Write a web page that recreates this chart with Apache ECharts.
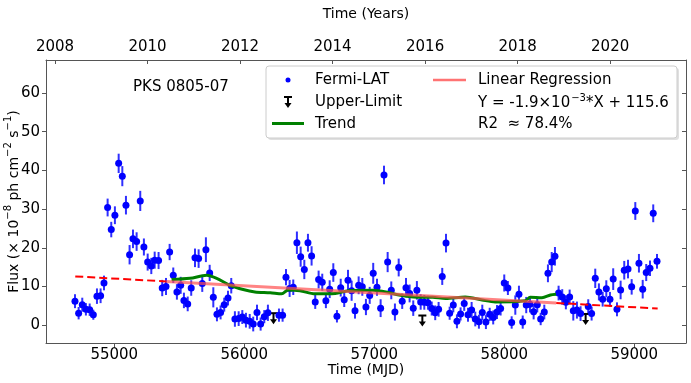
<!DOCTYPE html>
<html lang="en" style="height: 100%">
<head>
    <meta charset="utf-8">
    <title>PKS 0805-07 light curve</title>
    <script src="https://cdn.jsdelivr.net/npm/echarts@6.0.0/dist/echarts.min.js"></script>
    <style>
        html, body { margin: 0; padding: 0; background: #fff; }
        #chart { width: 691px; height: 383px; }
    </style>
</head>
<body>
<div id="chart"></div>

<script type="text/javascript">
    // Fermi-LAT detections: time (MJD), flux and 1-sigma error (x 10^-8 ph cm^-2 s^-1)
    var mjd = [
        54698, 54726, 54754, 54782, 54811, 54839, 54867, 54895, 54921, 54949, 54977, 55005, 55034, 55062, 55090, 55118, 55144, 55172, 55200, 55228, 55257, 55285, 55311,
        55341, 55369, 55398, 55426, 55454, 55482, 55511, 55536, 55565, 55592, 55621, 55649, 55677, 55705, 55734, 55762, 55790, 55818, 55846, 55875, 55900, 55928, 55957, 55985, 56013, 56042, 56069, 56098, 56126, 56154, 56182,
        56267, 56295, 56321, 56349, 56377, 56405, 56434, 56462, 56490, 56518, 56546, 56572, 56600, 56628, 56657, 56685, 56713, 56742, 56769, 56798, 56826, 56852, 56880, 56908, 56936, 56965, 56992, 57021, 57049, 57075, 57103, 57131, 57159, 57188, 57215, 57244, 57272, 57300, 57328, 57357,
        57385, 57413, 57442, 57469, 57495, 57523, 57552, 57580, 57608, 57636, 57664, 57692, 57721, 57749, 57777, 57805, 57831, 57859, 57888, 57915, 57944, 57972, 58000, 58028, 58057, 58085, 58113, 58142, 58169, 58198, 58226, 58254, 58280, 58308, 58336, 58365, 58390, 58418, 58446, 58474, 58503, 58531, 58559, 58587,
        58646, 58672, 58700, 58728, 58757, 58785, 58813, 58838, 58867, 58895, 58923, 58952, 58980, 59008, 59036, 59065, 59092, 59121, 59146, 59175
    ];
    var flux = [
        6.2, 3.1, 5.3, 4.1, 4.0, 2.7, 7.5, 7.6, 10.9, 30.4, 24.7, 28.4, 41.8, 38.5, 31.0, 18.2, 22.3, 21.6, 32.1, 20.2, 16.3, 15.3, 16.8,
        16.7, 9.6, 10.0, 18.9, 12.9, 8.6, 10.3, 6.4, 5.5, 9.6, 17.4, 17.2, 10.8, 19.5, 13.5, 7.2, 2.8, 3.3, 5.3, 7.0, 10.2, 1.6, 1.7, 2.1, 1.3, 1.0, 0.3, 3.3, 0.3, 2.2, 3.2,
        2.6, 2.6, 12.4, 9.5, 9.8, 21.3, 17.7, 14.4, 21.3, 17.9, 6.0, 11.8, 11.1, 6.3, 9.3, 13.6, 2.3, 9.7, 6.6, 11.6, 8.9, 3.7, 10.3, 9.9, 4.7, 7.7, 13.4, 9.8, 4.4, 38.8, 16.3, 9.0, 3.4, 14.9, 6.2, 9.7, 8.2, 4.4, 9.0, 6.0,
        5.9, 5.8, 4.3, 3.2, 4.1, 12.6, 21.2, 3.1, 5.2, 1.0, 2.9, 5.6, 2.7, 3.9, 1.6, 0.9, 3.3, 0.8, 2.8, 2.0, 3.4, 4.3, 10.9, 9.6, 0.7, 5.2, 8.0, 0.8, 5.2, 5.4, 3.5, 5.3, 1.6, 3.4, 13.4, 16.3, 17.8, 8.3, 7.3, 5.9, 7.3, 3.7, 3.9, 3.0,
        4.8, 3.0, 12.1, 8.6, 6.7, 9.4, 6.7, 11.9, 4.1, 9.1, 14.2, 14.5, 9.9, 29.5, 16.0, 9.3, 13.6, 14.7, 28.9, 16.5
    ];
    var fluxErr = [
        1.8, 1.6, 1.8, 1.6, 1.6, 1.3, 2.0, 1.9, 1.9, 2.3, 2.0, 2.3, 2.5, 2.6, 2.4, 2.5, 2.4, 2.4, 2.6, 2.2, 2.2, 2.1, 2.2,
        2.2, 2.1, 2.2, 2.1, 2.0, 2.0, 2.2, 2.0, 1.9, 2.0, 2.4, 2.4, 2.2, 3.2, 2.1, 2.6, 1.8, 1.8, 1.8, 1.9, 2.0, 2.0, 1.9, 1.8, 1.9, 1.9, 1.9, 2.0, 1.7, 1.7, 2.1,
        1.7, 1.7, 2.1, 2.2, 2.0, 2.9, 2.6, 2.5, 2.3, 2.5, 1.8, 2.3, 2.2, 1.9, 2.3, 2.4, 1.6, 2.3, 1.9, 2.7, 2.6, 2.0, 2.3, 2.3, 2.1, 2.2, 2.7, 2.2, 2.3, 2.4, 2.6, 2.3, 2.2, 2.3, 2.0, 2.5, 2.3, 2.0, 2.4, 2.0,
        1.9, 1.8, 1.8, 1.9, 1.9, 2.2, 2.4, 1.7, 1.9, 1.8, 1.7, 1.9, 1.8, 2.1, 1.9, 1.8, 2.0, 1.8, 1.7, 1.8, 1.8, 1.8, 2.2, 1.8, 1.6, 2.5, 2.2, 1.7, 2.1, 2.1, 2.0, 2.0, 1.6, 1.9, 2.3, 2.6, 2.4, 1.9, 2.0, 1.8, 1.9, 2.5, 2.2, 1.9,
        1.9, 1.8, 2.5, 2.2, 1.9, 2.2, 1.9, 2.8, 1.8, 2.4, 2.4, 2.4, 2.0, 2.3, 2.4, 2.4, 2.2, 2.0, 2.3, 1.9
    ];

    // upper limits
    var ulMjd = [56225, 57370, 58626];
    var ulFlux = [3.1, 2.5, 2.9];

    // smoothed trend
    var trendMjd = [55441, 55582, 55711, 55788, 55890, 55992, 56082, 56200, 56288, 56338, 56428, 56544, 56700, 56800, 56990, 57090, 57190, 57300, 57450, 57550, 57700, 57830, 57930, 58160, 58200, 58290, 58355, 58398];
    var trendFlux = [11.8, 12.1, 12.9, 12.1, 10.3, 9.2, 8.6, 8.4, 8.1, 9.1, 8.9, 8.1, 8.2, 8.9, 9.0, 8.6, 7.8, 7.3, 7.2, 6.9, 7.3, 6.5, 6.0, 6.3, 7.2, 7.1, 7.8, 8.0];

    // linear regression as drawn (dashed outside the trend span, solid inside)
    var regSlope = -1.853e-3;
    var regIntercept = 113.96;
    var regBreaks = [54700, 55400, 58400, 59180];

    var xTicks = [55000, 56000, 57000, 58000, 59000];
    var yearTicks = [2008, 2010, 2012, 2014, 2016, 2018, 2020];
    var yTicks = [0, 10, 20, 30, 40, 50, 60];

    function regPoint(x) { return [x, regSlope * x + regIntercept]; }

    var points = mjd.map(function (m, i) { return [m, flux[i], fluxErr[i]]; });
    var ulData = ulMjd.map(function (m, i) { return [m, ulFlux[i]]; });
    var trendData = trendMjd.map(function (m, i) { return [m, trendFlux[i]]; });

    var FONT = 'DejaVu Sans';
    var AXIS_COLOR = '#555';
    var plain = function (v) { return String(v); };

    var chart = echarts.init(document.getElementById('chart'));

    function ulShape(cx, cy, color, z) {
        return [
            { type: 'line', z: z, shape: { x1: cx - 4, y1: cy, x2: cx + 4, y2: cy }, style: { stroke: color, lineWidth: 2 } },
            { type: 'line', z: z, shape: { x1: cx, y1: cy, x2: cx, y2: cy + 8 }, style: { stroke: color, lineWidth: 2 } },
            { type: 'polygon', z: z, shape: { points: [[cx - 3.5, cy + 6], [cx + 3.5, cy + 6], [cx, cy + 11]] }, style: { fill: color } }
        ];
    }

    var legendFont = '15px "DejaVu Sans"';
    var legendItems = [
        { type: 'text', left: 133, top: 80, style: { text: 'PKS 0805-07', font: legendFont, fill: '#000' } },
        // legend frame
        { type: 'rect', shape: { x: 268, y: 68, width: 411, height: 72, r: 3 }, style: { fill: 'rgba(0,0,0,0.12)' }, z: 10 },
        { type: 'rect', shape: { x: 266, y: 66, width: 411, height: 72, r: 3 }, style: { fill: '#fff', stroke: '#ccc', lineWidth: 1 }, z: 11 },
        { type: 'circle', shape: { cx: 288, cy: 80, r: 2.5 }, style: { fill: '#0000ff' }, z: 12 },
        { type: 'line', shape: { x1: 272, y1: 123.5, x2: 304, y2: 123.5 }, style: { stroke: '#008000', lineWidth: 3 }, z: 12 },
        { type: 'line', shape: { x1: 433, y1: 80, x2: 466, y2: 80 }, style: { stroke: 'rgba(255,80,80,0.8)', lineWidth: 2.5 }, z: 12 },
        { type: 'text', x: 315, y: 80, z: 12, style: { text: 'Fermi-LAT', font: legendFont, fill: '#000', verticalAlign: 'middle' } },
        { type: 'text', x: 315, y: 102, z: 12, style: { text: 'Upper-Limit', font: legendFont, fill: '#000', verticalAlign: 'middle' } },
        { type: 'text', x: 315, y: 124, z: 12, style: { text: 'Trend', font: legendFont, fill: '#000', verticalAlign: 'middle' } },
        { type: 'text', x: 478, y: 80, z: 12, style: { text: 'Linear Regression', font: legendFont, fill: '#000', verticalAlign: 'middle' } },
        {
            type: 'text', x: 478, y: 102, z: 12,
            style: {
                text: '{n|Y = -1.9×10}{s|−3}{n|*X + 115.6}',
                fill: '#000', verticalAlign: 'middle',
                rich: {
                    n: { fontFamily: FONT, fontSize: 15, lineHeight: 18, verticalAlign: 'bottom' },
                    s: { fontFamily: FONT, fontSize: 10, lineHeight: 18, verticalAlign: 'top', padding: [0, 0, 0, 1] }
                }
            }
        },
        { type: 'text', x: 478, y: 124, z: 12, style: { text: 'R2  ≈ 78.4%', font: legendFont, fill: '#000', verticalAlign: 'middle' } }
    ].concat(ulShape(288, 97, '#000', 12));

    chart.setOption({
        animation: false,
        grid: { left: 46, right: 5, top: 60, bottom: 40, outerBoundsMode: 'none' },
        xAxis: [{
            type: 'value',
            position: 'bottom',
            min: 54475,
            max: 59398,
            name: 'Time (MJD)',
            nameLocation: 'middle',
            nameGap: 20,
            nameMoveOverlap: false,
            nameTextStyle: { fontFamily: FONT, fontSize: 14, color: '#000' },
            axisLine: { onZero: false, lineStyle: { color: AXIS_COLOR, width: 1 } },
            axisTick: { show: true, length: 4, customValues: xTicks, lineStyle: { color: AXIS_COLOR } },
            axisLabel: { customValues: xTicks, formatter: plain, margin: 5, fontFamily: FONT, fontSize: 15, color: '#000' },
            splitLine: { show: false }
        }, {
            type: 'value',
            position: 'top',
            min: 2007.805,
            max: 2021.64,
            name: 'Time (Years)',
            nameLocation: 'middle',
            nameGap: 39,
            nameMoveOverlap: false,
            nameTextStyle: { fontFamily: FONT, fontSize: 14, color: '#000' },
            axisLine: { onZero: false, lineStyle: { color: AXIS_COLOR, width: 1 } },
            axisTick: { show: true, inside: true, length: 4, customValues: yearTicks, lineStyle: { color: AXIS_COLOR } },
            axisLabel: { customValues: yearTicks, formatter: plain, margin: 5, fontFamily: FONT, fontSize: 15, color: '#000' },
            splitLine: { show: false }
        }],
        yAxis: [{
            type: 'value',
            position: 'left',
            min: -4.6,
            max: 68.5,
            name: '{n|Flux (× 10}{s|−8}{n| ph cm}{s|−2}{n| s}{s|−1}{n|)}',
            nameLocation: 'middle',
            nameGap: 25,
            nameMoveOverlap: false,
            nameTextStyle: {
                color: '#000',
                rich: {
                    n: { fontFamily: FONT, fontSize: 14, lineHeight: 18, verticalAlign: 'bottom', color: '#000' },
                    s: { fontFamily: FONT, fontSize: 10, lineHeight: 18, verticalAlign: 'top', color: '#000' }
                }
            },
            axisLine: { show: true, onZero: false, lineStyle: { color: AXIS_COLOR, width: 1 } },
            axisTick: { show: true, length: 4, customValues: yTicks, lineStyle: { color: AXIS_COLOR } },
            axisLabel: { customValues: yTicks, formatter: plain, margin: 6, fontFamily: FONT, fontSize: 15, color: '#000' },
            splitLine: { show: false }
        }, {
            type: 'value',
            position: 'right',
            min: -4.6,
            max: 68.5,
            axisLine: { show: true, onZero: false, lineStyle: { color: AXIS_COLOR, width: 1 } },
            axisTick: { show: true, inside: true, length: 4, customValues: yTicks, lineStyle: { color: AXIS_COLOR } },
            axisLabel: { show: false },
            splitLine: { show: false }
        }],
        series: [{
            name: 'errors',
            type: 'custom',
            xAxisIndex: 0,
            yAxisIndex: 0,
            z: 2,
            encode: { x: 0, y: 1 },
            data: points,
            renderItem: function (params, api) {
                var x = api.value(0), y = api.value(1), e = api.value(2);
                var p1 = api.coord([x, y - e]);
                var p2 = api.coord([x, y + e]);
                return {
                    type: 'line',
                    shape: { x1: p1[0], y1: p1[1], x2: p2[0], y2: p2[1] },
                    style: { stroke: 'rgba(10,10,255,0.85)', lineWidth: 2 }
                };
            }
        }, {
            name: 'Fermi-LAT',
            type: 'scatter',
            xAxisIndex: 0,
            yAxisIndex: 0,
            z: 3,
            symbol: 'circle',
            symbolSize: 7,
            itemStyle: { color: '#0000ff', opacity: 1 },
            data: points
        }, {
            name: 'Upper-Limit',
            type: 'custom',
            xAxisIndex: 0,
            yAxisIndex: 0,
            z: 3,
            encode: { x: 0, y: 1 },
            data: ulData,
            renderItem: function (params, api) {
                var p = api.coord([api.value(0), api.value(1)]);
                return { type: 'group', children: ulShape(p[0], p[1], '#000') };
            }
        }, {
            name: 'Trend',
            type: 'line',
            xAxisIndex: 0,
            yAxisIndex: 0,
            z: 4,
            showSymbol: false,
            smooth: 0.3,
            lineStyle: { color: '#008000', width: 3 },
            data: trendData
        }, {
            name: 'Linear Regression',
            type: 'line',
            xAxisIndex: 0,
            yAxisIndex: 0,
            z: 5,
            showSymbol: false,
            lineStyle: { color: 'rgba(255,80,80,0.7)', width: 3 },
            data: [regPoint(regBreaks[1]), regPoint(regBreaks[2])]
        }, {
            name: 'regLeft',
            type: 'line',
            xAxisIndex: 0,
            yAxisIndex: 0,
            z: 5,
            showSymbol: false,
            lineStyle: { color: '#ff0000', width: 2, type: [8, 4] },
            data: [regPoint(regBreaks[0]), regPoint(regBreaks[1])]
        }, {
            name: 'regRight',
            type: 'line',
            xAxisIndex: 0,
            yAxisIndex: 0,
            z: 5,
            showSymbol: false,
            lineStyle: { color: '#ff0000', width: 2, type: [8, 4] },
            data: [regPoint(regBreaks[2]), regPoint(regBreaks[3])]
        }],
        graphic: legendItems
    });
</script>

</body>
</html>
